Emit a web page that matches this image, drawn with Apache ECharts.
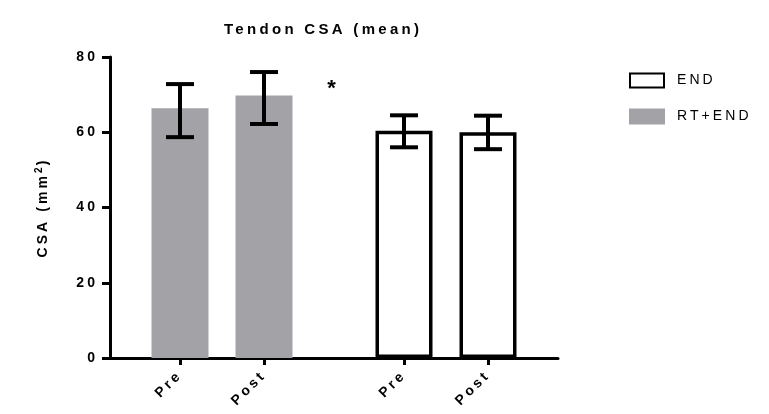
<!DOCTYPE html>
<html>
<head>
<meta charset="utf-8">
<script src="https://cdn.jsdelivr.net/npm/echarts@6/dist/echarts.min.js"></script>
<style>html,body{margin:0;padding:0;background:#fff}#c{width:769px;height:414px}</style>
</head>
<body>
<div id="c"></div>
<script>
// ---- data ----
const tickLabels = ['Pre', 'Post', 'Pre', 'Post'];
const groups = ['RT+END', 'RT+END', 'END', 'END'];
const meanValues = [66.4, 69.8, 60.4, 60.0];
const lowValues = [58.7, 62.2, 56.0, 55.5];
const highValues = [72.8, 76.0, 64.5, 64.4];
const yTicks = [0, 20, 40, 60, 80];
const sigMark = '*';
const sigValue = 71.5;

// ---- layout (slot positions on the category axis) ----
const SLOTS = 16;
const slotOf = [2, 5, 10, 13];
const sigSlots = [7, 8];

// letter spacing emulation
(function () {
  const proto = CanvasRenderingContext2D.prototype;
  if (!('letterSpacing' in proto)) return;
  const ft = proto.fillText, mt = proto.measureText;
  function setLS(ctx) {
    const m = /(\d+(?:\.\d+)?)px/.exec(ctx.font);
    const s = m ? parseFloat(m[1]) : 12;
    ctx.letterSpacing = (s * 0.22).toFixed(2) + 'px';
  }
  proto.fillText = function (t, x, y, w) { setLS(this); return w === undefined ? ft.call(this, t, x, y) : ft.call(this, t, x, y, w); };
  proto.measureText = function (t) { setLS(this); return mt.call(this, t); };
})();

const cats = [];
for (let i = 0; i < SLOTS; i++) cats.push('s' + i);
const labelAt = {};
slotOf.forEach((s, i) => { labelAt[s] = tickLabels[i]; });

function seriesData(g) {
  const d = new Array(SLOTS).fill(null);
  slotOf.forEach((s, i) => { if (groups[i] === g) d[s] = meanValues[i]; });
  return d;
}
const errData = slotOf.map((s, i) => [s, lowValues[i], highValues[i]]);

const FONT = 'Liberation Sans, Arial, sans-serif';
const chart = echarts.init(document.getElementById('c'), null, { renderer: 'canvas' });
chart.setOption({
  animation: false,
  title: {
    text: 'Tendon CSA (mean)',
    left: 219, top: 16,
    textStyle: { fontFamily: FONT, fontSize: 15, fontWeight: 'bold', color: '#000' }
  },
  legend: {
    data: ['END', 'RT+END'],
    orient: 'vertical',
    left: 624, top: 67,
    itemWidth: 34, itemHeight: 14, itemGap: 19,
    icon: 'rect',
    textStyle: { fontFamily: FONT, fontSize: 14, color: '#000', padding: [0, 0, 0, 8] }
  },
  grid: { left: 110, top: 57, width: 448, height: 301, containLabel: false, outerBoundsMode: 'none' },
  xAxis: {
    type: 'category',
    data: cats,
    axisLine: { lineStyle: { color: '#000', width: 3 } },
    axisTick: { show: true, length: 7, alignWithLabel: true, lineStyle: { color: '#000', width: 3 },
      interval: (idx) => labelAt[idx] !== undefined },
    axisLabel: {
      interval: (idx) => labelAt[idx] !== undefined,
      formatter: (v, idx) => labelAt[idx] || '',
      rotate: 45, margin: 15,
      fontFamily: FONT, fontSize: 14, fontWeight: 'bold', color: '#000'
    },
    splitLine: { show: false }
  },
  yAxis: {
    type: 'value', min: yTicks[0], max: yTicks[yTicks.length - 1], interval: yTicks[1] - yTicks[0],
    name: '{m|CSA (mm}{s|2}{m|)}',
    nameLocation: 'middle', nameRotate: 90, nameGap: 57,
    nameTextStyle: {
      rich: {
        m: { fontFamily: FONT, fontSize: 14, fontWeight: 'bold', color: '#000' },
        s: { fontFamily: FONT, fontSize: 10, fontWeight: 'bold', color: '#000', verticalAlign: 'top', padding: [0, 0, 8, 0] }
      }
    },
    axisLine: { show: true, lineStyle: { color: '#000', width: 3 } },
    axisTick: { show: true, length: 8, lineStyle: { color: '#000', width: 3 } },
    axisLabel: { margin: 12, fontFamily: FONT, fontSize: 14, fontWeight: 'bold', color: '#000' },
    splitLine: { show: false }
  },
  series: [
    {
      name: 'END', type: 'bar', data: seriesData('END'), barWidth: 57, barGap: '-100%',
      itemStyle: { color: '#fff', borderColor: '#000', borderWidth: 3.5 }, z: 2
    },
    {
      name: 'RT+END', type: 'bar', data: seriesData('RT+END'), barWidth: 57, barGap: '-100%',
      itemStyle: { color: '#a3a2a7', borderColor: '#a3a2a7', borderWidth: 3 }, z: 2
    },
    {
      type: 'custom', name: 'err', data: errData, z: 5,
      renderItem: function (params, api) {
        const x = api.value(0);
        const lo = api.coord([x, api.value(1)]);
        const hi = api.coord([x, api.value(2)]);
        const hw = 14;
        const st = { stroke: '#000', lineWidth: 4 };
        return {
          type: 'group', children: [
            { type: 'line', shape: { x1: lo[0], y1: lo[1], x2: hi[0], y2: hi[1] }, style: st },
            { type: 'line', shape: { x1: lo[0] - hw, y1: lo[1], x2: lo[0] + hw, y2: lo[1] }, style: st },
            { type: 'line', shape: { x1: hi[0] - hw, y1: hi[1], x2: hi[0] + hw, y2: hi[1] }, style: st }
          ]
        };
      }
    },
    {
      type: 'custom', name: 'sig', data: [[sigSlots[0], sigSlots[1], sigValue]], z: 5,
      renderItem: function (params, api) {
        const a = api.coord([api.value(0), api.value(2)]);
        const b = api.coord([api.value(1), api.value(2)]);
        return {
          type: 'text',
          style: { text: sigMark, x: (a[0] + b[0]) / 2, y: a[1], align: 'center', verticalAlign: 'middle',
            font: 'bold 22px ' + FONT, fill: '#000' }
        };
      }
    }
  ]
});
</script>
</body>
</html>
